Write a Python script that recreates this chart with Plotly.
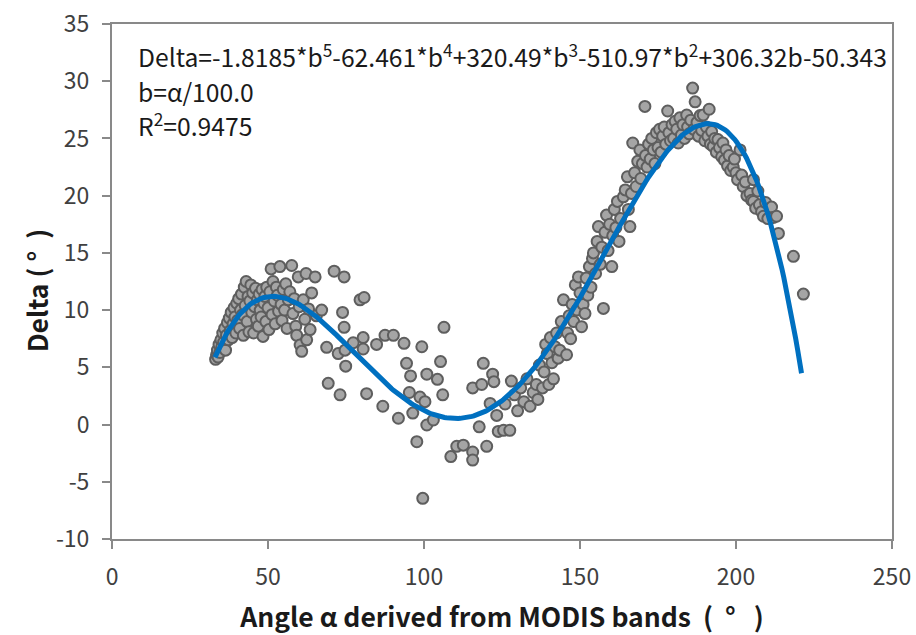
import numpy as np
import plotly.graph_objects as go

# Observed points: angle alpha (deg) vs Delta (deg), grouped by alpha range
alpha_a = [33.2, 33.5, 33.8, 34.0, 34.3, 34.6, 34.9, 35.2, 35.5, 35.8, 36.1, 36.4, 36.7, 37.0,
           37.3, 37.6, 37.9, 38.2, 38.5, 38.8, 39.1, 39.4, 39.7, 40.0, 40.3, 40.6, 40.9, 41.2,
           41.5, 41.8, 42.1, 42.4, 42.7, 43.0, 43.3, 43.6, 43.9, 44.2, 44.5, 44.8, 45.1, 45.4,
           45.7, 46.0, 46.3, 46.6, 46.9, 47.2, 47.5, 47.8, 48.1, 48.4, 48.7]
delta_a = [5.7, 6.1, 6.5, 5.9, 7.0, 6.3, 7.4, 6.8, 8.0, 7.2, 8.4, 6.5, 7.8, 8.9,
           7.4, 9.3, 8.2, 9.8, 7.6, 8.8, 10.2, 9.4, 8.0, 10.6, 9.1, 11.0, 8.4, 10.0,
           11.4, 9.6, 7.8, 12.0, 10.4, 12.5, 9.0, 11.2, 8.1, 10.8, 12.2, 9.8, 11.5, 8.0,
           10.3, 11.9, 9.2, 10.9, 8.6, 11.4, 10.0, 9.4, 11.8, 7.7, 10.6]

alpha_b = [49.0, 49.3, 49.6, 50.0, 50.3, 50.6, 51.0, 51.3, 51.6, 52.0, 52.3, 52.7, 53.0, 53.4,
           53.8, 54.2, 54.5, 54.9, 55.3, 55.7, 56.1, 56.5, 57.0, 57.6, 58.0, 58.4, 58.9, 59.2,
           59.7, 60.0, 60.3, 60.8, 61.3, 61.8, 62.2, 62.4, 63.0, 63.5, 64.0, 65.1, 65.5, 67.2]
delta_b = [11.2, 9.0, 12.0, 10.2, 8.3, 11.6, 13.6, 9.6, 12.5, 10.8, 8.8, 12.0, 11.3, 9.9,
           13.8, 10.5, 9.1, 11.8, 10.0, 12.3, 8.4, 10.9, 11.6, 13.9, 9.7, 11.0, 8.6, 7.8,
           12.9, 10.3, 6.95, 6.4, 10.9, 9.2, 13.2, 7.4, 10.1, 8.3, 11.5, 12.9, 9.5, 10.0]

alpha_c = [68.8, 69.3, 71.2, 72.5, 73.1, 73.9, 74.4, 74.4, 74.7, 74.9, 77.3, 79.5, 80.8, 80.5,
           80.5, 81.6, 84.8, 86.8, 87.5, 90.2, 91.8, 93.6, 94.4, 95.3, 95.7, 96.4, 97.7, 98.7,
           99.3, 99.6, 100.3, 100.9, 100.9, 103.0, 104.3, 105.3, 106.0, 106.4]
delta_c = [6.75, 3.6, 13.4, 6.2, 2.6, 9.8, 12.9, 8.5, 6.5, 5.1, 7.15, 10.9, 11.1, 7.6,
           6.6, 2.7, 7.0, 1.6, 7.8, 7.8, 0.55, 7.1, 5.35, 2.8, 4.25, 1.0, -1.5, 2.4,
           6.8, -6.45, 2.0, 4.4, -0.04, 0.4, 3.95, 5.5, 2.6, 8.5]

alpha_d = [108.6, 110.5, 112.6, 115.6, 115.6, 115.6, 117.7, 118.5, 119.0, 120.1, 121.2, 122.0,
           122.4, 123.3, 123.8, 125.5, 126.0, 127.5, 128.0, 129.0, 130.0, 131.0, 132.0, 133.0,
           134.0, 135.0, 136.0, 136.5, 137.0, 138.0, 138.5, 139.0, 139.5, 140.0, 140.5, 141.0,
           141.5, 142.0, 142.5, 143.0, 143.5, 144.0]
delta_d = [-2.8, -1.9, -1.8, -2.4, -3.1, 3.2, -0.2, 3.5, 5.35, -1.9, 1.85, 4.4,
           3.75, 0.8, -0.6, -0.5, 1.8, -0.5, 3.8, 2.6, 1.2, 3.2, 2.0, 4.0,
           1.6, 2.8, 3.5, 2.2, 5.2, 3.2, 4.6, 7.0, 6.2, 3.5, 7.6, 5.4,
           4.0, 6.8, 8.0, 5.8, 6.5, 9.0]

alpha_e = [144.7, 145.7, 146.0, 146.5, 147.0, 147.5, 148.0, 148.5, 149.0, 149.5, 150.0, 150.5,
           151.0, 151.6, 152.0, 152.5, 153.0, 153.5, 154.0, 154.3, 155.0, 155.5, 155.9, 156.5,
           157.0, 157.5, 158.0, 158.5, 159.0, 159.5, 160.2, 160.5, 161.0, 161.5, 162.0, 162.5,
           163.0, 163.9, 164.5, 165.2, 165.5, 166.0, 166.5, 166.9, 167.5, 168.0, 168.5, 169.2,
           169.5, 170.0]
delta_e = [10.9, 6.1, 8.0, 9.5, 7.5, 10.5, 9.0, 12.2, 10.0, 12.9, 11.5, 8.55,
           10.5, 9.7, 12.8, 11.3, 13.8, 12.0, 14.5, 15.0, 13.2, 16.0, 17.3, 14.0,
           15.5, 10.15, 16.8, 18.3, 15.2, 17.5, 13.8, 16.5, 18.8, 17.2, 19.5, 16.0,
           18.0, 19.9, 20.5, 21.65, 18.8, 17.3, 20.2, 24.6, 22.0, 20.8, 23.0, 24.0,
           21.5, 22.8]

alpha_f = [170.8, 171.0, 171.5, 172.0, 172.5, 173.0, 173.5, 174.0, 174.5, 175.0, 175.5, 176.0,
           176.5, 177.0, 177.5, 178.1, 178.5, 179.0, 179.5, 180.0, 180.5, 181.0, 181.5, 182.0,
           182.5, 183.0, 183.5, 184.2, 184.5, 185.0, 185.5, 186.1, 186.5, 186.9, 187.5, 188.0,
           188.5, 189.0, 189.5, 190.0, 190.5, 191.0, 191.4, 191.8, 192.2, 192.7, 193.2, 193.7,
           194.2, 194.7, 195.4, 195.8, 196.3, 196.8, 197.3, 197.8, 198.3, 199.1, 199.5, 200.0,
           200.5, 201.3, 201.8, 202.3, 203.0]
delta_f = [27.8, 23.5, 22.5, 24.5, 23.2, 25.0, 24.0, 22.8, 25.5, 24.2, 25.8, 23.8,
           25.2, 26.0, 24.5, 27.4, 25.5, 24.8, 26.2, 25.0, 26.5, 25.8, 24.6, 26.8,
           25.3, 26.2, 25.0, 27.05, 26.0, 25.4, 26.6, 29.4, 25.8, 28.2, 26.4, 25.2,
           27.0, 25.7, 27.05, 24.8, 26.0, 25.2, 27.55, 24.5, 25.6, 24.3, 25.0, 23.8,
           24.9, 24.2, 23.4, 24.6, 23.1, 24.0, 22.6, 23.5, 22.2, 22.5, 23.2, 22.0,
           21.4, 24.0, 21.8, 20.8, 21.2]

alpha_g = [203.5, 204.5, 205.0, 205.6, 205.6, 206.3, 207.0, 207.5, 208.2, 208.8, 209.5, 210.2,
           211.4, 212.0, 213.0, 213.6, 218.4, 221.6]
delta_g = [20.0, 20.2, 19.6, 19.5, 21.4, 18.9, 20.4, 19.2, 18.6, 18.2, 19.4, 18.0,
           19.0, 18.1, 18.2, 16.7, 14.7, 11.4]

alpha_obs = alpha_a + alpha_b + alpha_c + alpha_d + alpha_e + alpha_f + alpha_g
delta_obs = delta_a + delta_b + delta_c + delta_d + delta_e + delta_f + delta_g

# Fitted 5th-order polynomial in b = alpha / 100 (highest power first)
fit_coeffs = [-1.8185, -62.461, 320.49, -510.97, 306.32, -50.343]
fit_alpha_min, fit_alpha_max = 33.0, 221.0
r_squared = 0.9475

x_ticks = [0, 50, 100, 150, 200, 250]
y_ticks = [-10, -5, 0, 5, 10, 15, 20, 25, 30, 35]

fit_alpha = np.linspace(fit_alpha_min, fit_alpha_max, 300)
fit_delta = np.polyval(fit_coeffs, fit_alpha / 100.0)

font_main = "Noto Sans CJK SC, sans-serif"
axis_grey = "#898989"
text_dark = "#1a1a1a"
NB = "\u00a0"

fig = go.Figure()
fig.add_trace(go.Scatter(
    x=alpha_obs, y=delta_obs, mode="markers",
    marker=dict(size=11, color="#a5a5a5", line=dict(color="#5e5e5e", width=2)),
    showlegend=False,
))
fig.add_trace(go.Scatter(
    x=fit_alpha, y=fit_delta, mode="lines",
    line=dict(color="#0070c0", width=5),
    showlegend=False,
))

c = fit_coeffs
eq_lines = [
    (f"Delta={c[0]}*b<sup>5</sup>{c[1]}*b<sup>4</sup>+{c[2]}*b<sup>3</sup>"
     f"{c[3]}*b<sup>2</sup>+{c[4]}b{c[5]}", 0.938),
    ("b=α/100.0", 0.870),
    (f"R<sup>2</sup>={r_squared}", 0.804),
]
for txt, ypos in eq_lines:
    fig.add_annotation(
        x=0.031, y=ypos, xref="paper", yref="paper",
        xanchor="left", yanchor="middle", align="left", showarrow=False,
        text=txt, font=dict(family=font_main, size=24.7, color=text_dark),
    )

axis_common = dict(
    showgrid=False, zeroline=False, showline=True, mirror=True,
    linecolor=axis_grey, linewidth=2, automargin=False,
    ticks="outside", ticklen=8, tickwidth=2, tickcolor=axis_grey,
    tickfont=dict(family=font_main, size=23, color="#404040"),
)

x_title = "Angle α derived from MODIS bands" + NB * 2 + "(" + NB * 2 + "°" + NB * 3 + ")"
y_title = "Delta" + NB + "(" + NB + "°" + NB * 2 + ")" + NB * 3

fig.update_xaxes(
    range=[0, 250], tickvals=x_ticks, ticktext=[str(v) for v in x_ticks],
    ticklabelstandoff=8,
    title=dict(text=f"<b>{x_title}</b>",
               font=dict(family=font_main, size=26.5, color=text_dark), standoff=18),
    **axis_common,
)
fig.update_yaxes(
    range=[-10, 35], tickvals=y_ticks, ticktext=[str(v) for v in y_ticks],
    ticklabelstandoff=8,
    title=dict(text=f"<b>{y_title}</b>",
               font=dict(family=font_main, size=26.5, color=text_dark), standoff=0),
    **axis_common,
)

fig.update_layout(
    width=916, height=635,
    margin=dict(l=112, r=24, t=24, b=96),
    plot_bgcolor="white", paper_bgcolor="white",
)

fig.write_html("out.html")
